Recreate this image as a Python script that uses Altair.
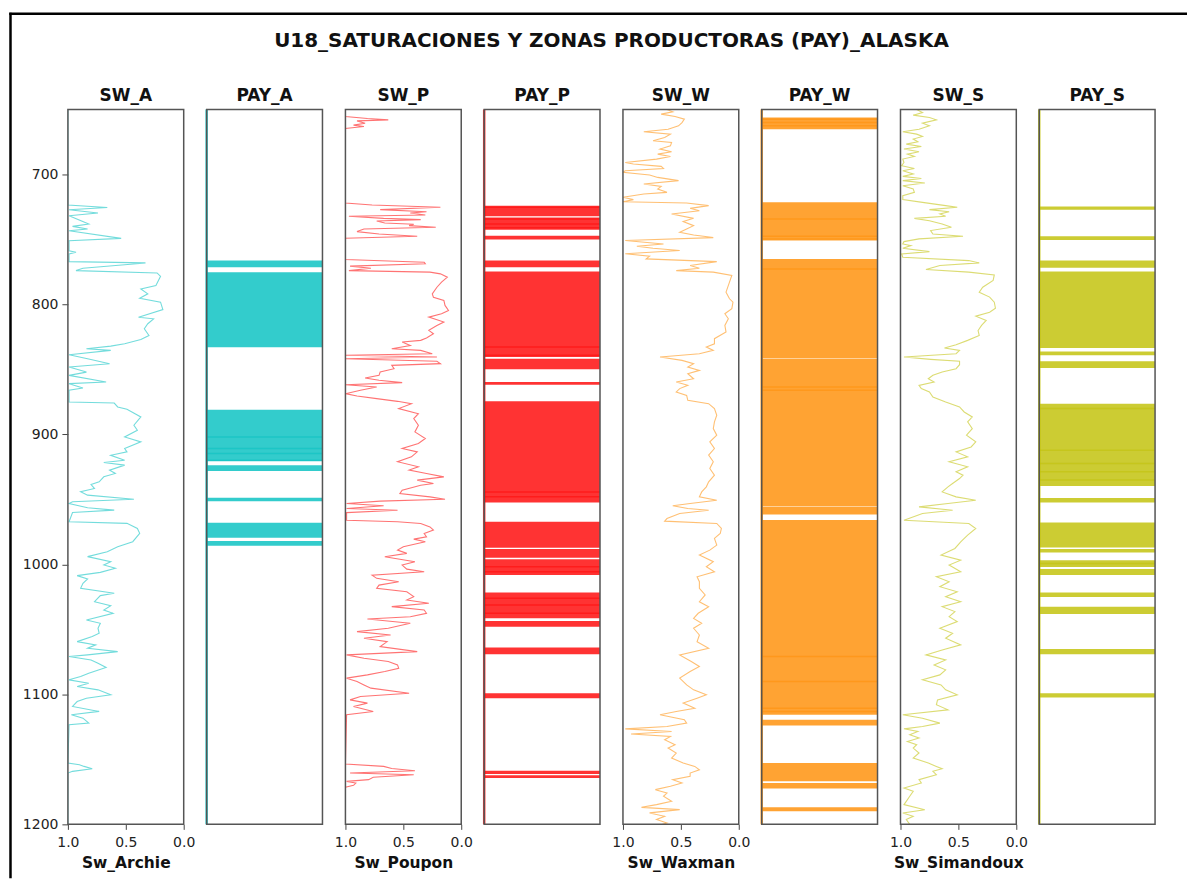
import altair as alt
import pandas as pd

TITLE = "U18_SATURACIONES Y ZONAS PRODUCTORAS (PAY)_ALASKA"
DEPTH_DOMAIN = [650, 1200]
DEPTH_TICKS = [700, 800, 900, 1000, 1100, 1200]
SW_TICKS = [1.0, 0.5, 0.0]

# ---------------- SW curves (depth, saturation) ----------------
sw_a_depth = [650, 723.5, 725.3, 727.1, 729.6, 731.7, 738.1, 739.9, 741.9, 743.2, 749.1, 750.9, 758.6, 759.8,
              761.1, 767.0, 768.0, 772.1, 773.9, 775.7, 778.3, 785.4, 788.0, 791.8, 795.2, 798.2, 803.9, 809.8,
              811.0, 814.8, 818.7, 823.8, 826.9, 830.2, 832.0, 834.0, 835.3, 838.6, 841.7, 845.6, 848.1, 852.0,
              854.5, 859.6, 860.9, 864.2, 866.0, 875.0, 875.8, 878.8, 880.6, 886.5, 892.9, 896.8, 901.9, 905.7,
              910.8, 913.4, 916.0, 919.8, 921.6, 923.6, 927.5, 930.0, 932.6, 936.4, 938.5, 941.6, 944.1, 946.7,
              949.8, 951.8, 953.1, 956.4, 958.2, 960.0, 967.2, 968.4, 972.3, 976.1, 982.5, 986.4, 990.2, 994.0,
              997.9, 1000.4, 1003.0, 1006.1, 1008.6, 1011.2, 1014.5, 1018.4, 1022.2, 1024.0, 1028.7, 1031.7,
              1035.1, 1037.6, 1042.7, 1045.3, 1049.1, 1053.0, 1055.5, 1059.4, 1061.9, 1064.5, 1067.1, 1069.6,
              1070.9, 1073.5, 1076.0, 1079.3, 1081.1, 1083.7, 1086.3, 1088.8, 1091.4, 1093.9, 1096.5, 1100.3,
              1102.9, 1105.5, 1109.3, 1113.1, 1115.7, 1118.3, 1122.1, 1123.4, 1152.8, 1154.1, 1155.4, 1157.2,
              1159.2, 1160.5, 1200]
sw_a_val = [1.0, 1.0, 0.66, 0.99, 0.74, 0.99, 0.82, 0.96, 0.83, 0.99, 0.54, 0.99, 0.99, 0.93,
            0.99, 0.99, 0.33, 0.87, 0.93, 0.23, 0.20, 0.24, 0.37, 0.31, 0.38, 0.20, 0.18, 0.39,
            0.26, 0.31, 0.34, 0.30, 0.37, 0.51, 0.63, 0.84, 0.63, 0.99, 0.83, 0.64, 0.99, 0.84,
            0.99, 0.67, 0.99, 0.87, 0.99, 0.99, 0.60, 0.57, 0.49, 0.37, 0.43, 0.40, 0.51, 0.37,
            0.51, 0.49, 0.63, 0.51, 0.69, 0.51, 0.64, 0.59, 0.69, 0.73, 0.80, 0.77, 0.89, 0.83,
            0.43, 0.96, 0.99, 0.83, 0.60, 0.96, 0.99, 0.49, 0.40, 0.38, 0.44, 0.57, 0.66, 0.83,
            0.63, 0.69, 0.59, 0.72, 0.92, 0.83, 0.87, 0.89, 0.60, 0.72, 0.77, 0.63,
            0.69, 0.61, 0.84, 0.72, 0.74, 0.73, 0.79, 0.92, 0.76, 0.83, 0.57, 0.83,
            0.99, 0.80, 0.74, 0.67, 0.73, 0.82, 0.89, 0.99, 0.82, 0.92, 0.74, 0.63,
            0.84, 0.92, 0.96, 0.73, 0.97, 0.87, 0.82, 0.99, 1.0, 0.90, 0.86, 0.79,
            0.96, 1.0, 1.0]

sw_p_depth = [650, 655.3, 656.9, 657.9, 658.7, 660.5, 662.0, 663.0, 664.5, 721.9, 723.4, 725.2, 727.0, 728.6,
              729.6, 731.1, 732.1, 733.7, 734.7, 735.7, 737.3, 738.3, 739.3, 740.6, 741.9, 743.9, 745.7, 747.5,
              749.0, 765.4, 767.5, 768.7, 770.5, 772.1, 773.9, 775.1, 776.4, 779.0, 782.8, 786.7, 791.8, 794.4,
              796.9, 800.7, 804.6, 807.1, 809.7, 813.5, 816.1, 819.9, 822.5, 825.8, 827.6, 828.9, 831.5, 834.0,
              835.3, 837.9, 839.1, 840.4, 841.7, 843.7, 845.5, 846.8, 849.4, 851.9, 854.5, 856.5, 858.3, 860.1,
              861.7, 863.5, 866.0, 868.6, 870.4, 872.4, 874.5, 876.3, 880.1, 884.0, 887.8, 892.9, 898.0, 903.1,
              907.0, 910.8, 913.4, 917.2, 921.0, 924.9, 927.4, 930.0, 932.6, 935.1, 937.7, 939.1, 942.9, 945.5,
              948.0, 949.8, 951.3, 953.1, 954.9, 957.0, 958.3, 960.1, 966.0, 967.2, 968.5, 971.1, 973.6, 976.2,
              978.7, 980.5, 982.6, 986.4, 989.0, 991.5, 994.1, 997.9, 1000.5, 1003.6, 1005.6, 1008.2, 1010.7,
              1013.3, 1015.9, 1018.4, 1021.0, 1024.8, 1027.4, 1029.9, 1032.5, 1035.1, 1037.6, 1040.2, 1042.0,
              1045.3, 1049.1, 1051.7, 1054.3, 1056.8, 1059.4, 1063.2, 1067.1, 1069.6, 1072.2, 1074.7, 1077.3,
              1079.9, 1082.4, 1085.0, 1087.5, 1090.1, 1092.7, 1095.2, 1099.1, 1101.6, 1104.2, 1106.7, 1109.3,
              1113.1, 1115.7, 1153.6, 1155.4, 1157.0, 1158.7, 1160.5, 1161.8, 1163.8, 1165.6, 1166.9, 1168.2,
              1170.0, 1171.5, 1200]
sw_p_val = [1.0, 1.0, 0.81, 0.63, 0.90, 0.83, 0.93, 0.84, 1.0, 1.0, 0.77, 0.18, 0.70, 0.30,
            0.44, 0.31, 0.97, 0.67, 0.35, 0.73, 0.66, 0.41, 0.45, 0.22, 0.84, 0.90, 0.71, 0.38,
            1.0, 1.0, 0.32, 0.31, 0.96, 0.78, 0.97, 0.27, 0.18, 0.12, 0.17, 0.21, 0.25, 0.24,
            0.15, 0.14, 0.11, 0.17, 0.28, 0.15, 0.21, 0.28, 0.24, 0.30, 0.35, 0.51, 0.44, 0.60,
            0.35, 0.25, 1.0, 0.21, 1.0, 0.21, 0.18, 0.60, 0.58, 0.70, 0.71, 0.83, 0.71, 0.51,
            1.0, 0.73, 0.87, 1.0, 0.90, 0.73, 0.55, 0.43, 0.54, 0.37, 0.41, 0.37, 0.40, 0.31,
            0.37, 0.51, 0.38, 0.43, 0.55, 0.37, 0.45, 0.30, 0.15, 0.38, 0.24, 0.35, 0.51, 0.53,
            0.27, 0.14, 0.70, 0.99, 0.67, 0.99, 0.55, 0.99, 0.99, 0.55, 0.35, 0.27, 0.24, 0.32,
            0.30, 0.41, 0.31, 0.50, 0.55, 0.47, 0.66, 0.40, 0.51, 0.47, 0.32, 0.77, 0.73,
            0.54, 0.71, 0.73, 0.47, 0.41, 0.47, 0.28, 0.60, 0.32, 0.30, 0.44, 0.81,
            0.44, 0.63, 0.90, 0.61, 0.84, 0.64, 0.70, 0.38, 0.99, 0.84, 0.63, 0.55,
            0.54, 0.66, 0.81, 0.99, 0.90, 0.84, 0.78, 0.45, 0.87, 0.96, 0.81, 0.93,
            0.76, 0.99, 1.0, 0.67, 0.60, 0.40, 0.96, 0.41, 0.76, 0.80, 0.99, 0.91,
            0.93, 1.0, 1.0]

sw_w_depth = [650.0, 651.7, 653.5, 655.3, 657.4, 660.0, 662.5, 665.1, 667.1, 668.9, 671.5, 674.0, 675.3, 677.9,
              680.4, 682.5, 684.3, 686.1, 688.1, 690.7, 691.9, 693.7, 695.3, 697.1, 698.3, 700.4, 702.2, 704.7,
              707.3, 709.1, 711.1, 713.7, 715.0, 717.5, 719.3, 720.9, 721.9, 723.9, 726.0, 727.8, 730.3, 733.7,
              736.2, 739.3, 741.9, 744.4, 746.5, 748.5, 750.8, 753.4, 755.2, 756.7, 758.5, 761.0, 762.8, 764.9,
              767.0, 770.0, 772.1, 773.9, 775.1, 777.7, 782.8, 790.5, 795.6, 798.2, 803.3, 807.1, 811.0, 816.1,
              821.2, 826.3, 830.2, 832.7, 835.3, 837.9, 840.4, 843.0, 845.5, 848.1, 850.7, 853.2, 857.1, 859.6,
              862.2, 864.7, 867.3, 869.9, 873.7, 876.3, 880.1, 885.2, 890.3, 895.5, 900.6, 905.7, 910.8, 915.9,
              921.0, 926.2, 931.3, 936.4, 940.3, 944.2, 948.0, 950.6, 953.1, 954.9, 957.0, 958.3, 960.8, 964.7,
              966.7, 968.5, 972.3, 976.2, 980.0, 985.1, 989.0, 992.8, 997.9, 1001.8, 1005.6, 1009.5, 1013.3,
              1018.4, 1023.5, 1028.7, 1032.5, 1037.6, 1041.5, 1045.3, 1049.1, 1054.3, 1059.4, 1064.5, 1069.6,
              1074.7, 1078.6, 1082.4, 1087.5, 1092.7, 1096.5, 1100.3, 1102.9, 1106.7, 1110.6, 1113.1, 1115.7,
              1119.5, 1122.1, 1124.7, 1126.5, 1128.5, 1130.5, 1132.3, 1134.9, 1138.7, 1141.3, 1145.1, 1149.0,
              1152.8, 1155.4, 1158.0, 1160.5, 1163.1, 1165.6, 1168.2, 1170.7, 1173.3, 1175.9, 1178.4, 1182.3,
              1184.8, 1186.9, 1188.7, 1191.2, 1193.8, 1196.3, 1198.9, 1200.0]
sw_w_val = [0.62, 0.57, 0.67, 0.55, 0.47, 0.49, 0.52, 0.61, 0.82, 0.59, 0.64, 0.74, 0.58, 0.59,
            0.68, 0.58, 0.70, 0.59, 0.71, 0.98, 0.91, 0.67, 0.65, 0.98, 1.0, 0.77, 0.70, 0.52,
            0.82, 0.67, 0.70, 0.62, 0.82, 1.0, 0.91, 1.0, 0.45, 0.26, 0.42, 0.34, 0.58, 0.39,
            0.48, 0.39, 0.45, 0.51, 0.39, 0.22, 0.98, 0.65, 0.88, 0.74, 0.51, 0.98, 0.77, 0.80,
            0.19, 0.42, 0.34, 0.54, 0.22, 0.06, 0.08, 0.11, 0.08, 0.05, 0.06, 0.12, 0.09, 0.12,
            0.11, 0.21, 0.21, 0.28, 0.22, 0.34, 0.68, 0.49, 0.39, 0.44, 0.34, 0.44, 0.39, 0.54,
            0.44, 0.51, 0.54, 0.45, 0.44, 0.26, 0.21, 0.19, 0.21, 0.22, 0.19, 0.25, 0.21, 0.26,
            0.22, 0.25, 0.21, 0.26, 0.28, 0.32, 0.34, 0.19, 0.42, 0.57, 0.44, 0.26, 0.51, 0.62,
            0.64, 0.19, 0.15, 0.16, 0.21, 0.19, 0.25, 0.34, 0.22, 0.28, 0.21, 0.36, 0.34,
            0.34, 0.29, 0.34, 0.26, 0.35, 0.39, 0.32, 0.39, 0.34, 0.36, 0.26, 0.51,
            0.41, 0.34, 0.42, 0.51, 0.45, 0.39, 0.28, 0.36, 0.48, 0.38, 0.54, 0.68,
            0.47, 0.45, 0.62, 0.98, 0.58, 0.93, 0.59, 0.64, 0.55, 0.61, 0.54, 0.58,
            0.48, 0.38, 0.34, 0.42, 0.42, 0.57, 0.49, 0.59, 0.72, 0.62, 0.65, 0.58,
            0.71, 0.84, 0.51, 0.77, 0.64, 0.71, 0.62, 0.66]

sw_s_depth = [650.0, 652.3, 654.3, 656.1, 657.9, 660.5, 662.5, 665.1, 667.1, 668.9, 670.7, 672.7, 674.8, 676.6,
              678.4, 680.4, 682.5, 684.3, 686.1, 688.1, 690.7, 693.2, 695.3, 697.1, 699.6, 701.4, 703.0, 704.7,
              706.5, 708.6, 711.1, 713.7, 716.3, 719.3, 721.4, 723.9, 725.2, 727.0, 728.6, 730.3, 732.1, 733.7,
              735.5, 738.1, 740.6, 743.1, 745.7, 747.5, 749.5, 751.6, 753.4, 754.7, 756.7, 759.3, 761.1, 763.6,
              766.2, 768.0, 770.0, 773.1, 775.1, 777.2, 781.5, 786.7, 790.5, 794.3, 798.2, 802.8, 805.9, 809.0,
              812.3, 816.1, 820.0, 823.8, 827.6, 830.9, 833.5, 835.3, 837.9, 840.4, 842.2, 843.7, 846.3, 849.4,
              851.9, 854.5, 857.1, 859.6, 862.2, 864.7, 867.3, 871.2, 875.0, 878.8, 882.7, 886.5, 890.3, 895.5,
              900.6, 905.7, 909.6, 913.4, 917.2, 921.0, 924.9, 928.7, 931.3, 933.9, 937.7, 940.3, 944.2, 948.0,
              950.6, 953.1, 955.7, 958.3, 960.8, 966.0, 968.5, 972.3, 977.5, 982.6, 987.7, 992.8, 996.7, 1000.5,
              1005.6, 1009.5, 1013.3, 1017.1, 1021.0, 1024.8, 1028.7, 1032.5, 1036.3, 1040.2, 1044.0, 1049.1,
              1053.0, 1056.8, 1061.9, 1065.8, 1069.6, 1073.5, 1077.3, 1081.1, 1085.0, 1088.8, 1092.7, 1096.5,
              1100.3, 1104.2, 1108.0, 1111.9, 1115.7, 1118.3, 1122.1, 1124.7, 1126.5, 1128.5, 1131.1, 1133.6,
              1136.2, 1138.7, 1141.3, 1145.1, 1149.0, 1152.8, 1155.4, 1157.2, 1159.2, 1161.8, 1165.6, 1168.2,
              1172.0, 1174.6, 1178.4, 1182.3, 1184.8, 1188.7, 1191.2, 1193.8, 1196.3, 1200.0]
sw_s_val = [0.86, 0.81, 0.89, 0.75, 0.69, 0.81, 0.75, 0.84, 0.98, 0.86, 0.81, 0.89, 0.85, 0.95,
            0.82, 0.97, 0.84, 0.94, 0.88, 0.98, 0.97, 0.99, 0.88, 0.98, 0.89, 0.98, 0.82, 0.98,
            0.79, 0.98, 0.89, 0.88, 0.98, 0.98, 0.81, 0.61, 0.51, 0.75, 0.58, 0.66, 0.61, 0.88,
            0.75, 0.64, 0.56, 0.74, 0.72, 0.46, 0.84, 0.97, 0.98, 0.91, 0.98, 0.75, 0.99, 0.98,
            0.41, 0.32, 0.66, 0.78, 0.41, 0.19, 0.20, 0.29, 0.32, 0.23, 0.19, 0.18, 0.23, 0.35,
            0.26, 0.30, 0.33, 0.32, 0.42, 0.52, 0.62, 0.49, 0.52, 0.97, 0.74, 0.49, 0.49, 0.52,
            0.64, 0.72, 0.76, 0.71, 0.84, 0.82, 0.75, 0.72, 0.61, 0.49, 0.45, 0.38, 0.42, 0.38,
            0.43, 0.35, 0.39, 0.52, 0.42, 0.58, 0.42, 0.52, 0.46, 0.49, 0.55, 0.59, 0.64, 0.52,
            0.35, 0.59, 0.84, 0.55, 0.81, 0.97, 0.41, 0.35, 0.42, 0.48, 0.53, 0.65, 0.48, 0.58,
            0.48, 0.69, 0.58, 0.66, 0.51, 0.61, 0.48, 0.64, 0.53, 0.58, 0.51, 0.66,
            0.55, 0.61, 0.48, 0.64, 0.78, 0.61, 0.71, 0.61, 0.66, 0.81, 0.65, 0.61,
            0.51, 0.68, 0.69, 0.59, 0.98, 0.81, 0.66, 0.81, 0.97, 0.85, 0.92, 0.84,
            0.94, 0.86, 0.89, 0.84, 0.89, 0.76, 0.69, 0.64, 0.72, 0.69, 0.84, 0.82,
            0.97, 0.89, 0.92, 0.95, 0.97, 0.79, 0.98, 0.89, 0.95, 0.92]

# ---------------- PAY intervals (top, base) and darker flag-change seams ----------------
pay_a_top = [766.2, 775.2, 880.9, 923.6, 948.7, 967.9, 982.0]
pay_a_base = [771.4, 832.8, 920.6, 928.2, 951.3, 979.4, 985.6]
pay_a_seams = [901.9, 910.8, 914.7, 919.8]

pay_p_top = [724.0, 733.1, 747.0, 766.2, 774.6, 841.7, 859.6, 874.5, 967.2, 988.2, 996.1, 1021.5, 1043.5,
             1064.0, 1099.1, 1158.7, 1162.2]
pay_p_base = [732.1, 742.4, 750.0, 771.3, 840.4, 849.9, 861.7, 952.4, 987.2, 994.9, 1008.2, 1041.5, 1047.9,
              1069.1, 1102.9, 1161.2, 1164.3]
pay_p_seams = [725.2, 734.2, 738.0, 741.0, 832.7, 839.1, 944.2, 948.0, 1001.8, 1005.6, 1026.1, 1031.2, 1037.6]

pay_w_top = [656.1, 721.4, 764.9, 842.0, 955.5, 965.9, 1119.5, 1152.8, 1168.2, 1186.9]
pay_w_base = [665.1, 750.8, 841.5, 955.0, 961.6, 1115.7, 1123.9, 1166.9, 1172.5, 1189.9]
pay_w_seams = [657.4, 660.0, 662.5, 734.2, 747.5, 749.5, 772.6, 863.5, 866.0, 1070.9, 1090.1, 1110.6, 1113.1]

pay_s_top = [724.5, 747.5, 766.2, 774.6, 836.1, 843.7, 876.3, 948.8, 967.7, 988.2, 996.7, 1003.6, 1021.5,
             1032.5, 1065.0, 1099.1]
pay_s_base = [727.0, 750.3, 771.8, 833.5, 839.1, 848.9, 939.6, 952.4, 986.9, 990.8, 1002.0, 1008.2, 1025.1,
              1038.1, 1069.1, 1102.4]
pay_s_seams = [880.1, 912.1, 922.3, 928.7, 935.1, 999.2]

# ---------------- styling ----------------
W, H, GAP = 116, 716, 23
FONT = "DejaVu Sans"
BORDER = "#555555"
COL_A, COL_P, COL_W, COL_S = "#00BFBF", "#FF0000", "#FF8C00", "#BFBF00"

y_scale = alt.Scale(domain=DEPTH_DOMAIN, reverse=True, nice=False, zero=False)
sw_scale = alt.Scale(domain=[0, 1], reverse=True, nice=False, zero=False)
pay_scale = alt.Scale(domain=[0, 1], nice=False, zero=False)

Y_AXIS = alt.Axis(values=DEPTH_TICKS, format="d", title=None, labelFont=FONT, labelFontSize=14,
                  labelColor="#222", tickSize=6, tickColor="#444", labelPadding=4, domain=False,
                  grid=False, labelFlush=False, labelOverlap=False)


def x_axis(title):
    return alt.Axis(values=SW_TICKS, format=".1f", title=title, labelFont=FONT,
                    labelFontSize=14, labelColor="#222", tickSize=5, tickColor="#444",
                    labelPadding=6, domain=False, grid=False, labelFlush=False,
                    labelOverlap=False, titleFont=FONT, titleFontSize=15.5,
                    titleFontWeight="bold", titleColor="#111", titlePadding=6)


def title_layer(name):
    return alt.Chart(pd.DataFrame({"label": [name]})).mark_text(
        font=FONT, fontSize=17, fontWeight="bold", align="center", baseline="alphabetic", color="#111"
    ).encode(text="label:N", x=alt.value(W / 2), y=alt.value(-9))


def border_layer(xscale, xaxis, yaxis):
    return alt.Chart(pd.DataFrame({"b": [0]})).mark_rect(
        filled=False, stroke=BORDER, strokeWidth=1.5
    ).encode(
        x=alt.X(datum=0, scale=xscale, axis=xaxis),
        x2=alt.X2(datum=1),
        y=alt.Y(datum=DEPTH_DOMAIN[0], scale=y_scale, axis=yaxis),
        y2=alt.Y2(datum=DEPTH_DOMAIN[1]),
    )


def sw_panel(name, axis_title, depth, vals, color, first=False):
    df = pd.DataFrame({"depth": depth, "sw": vals})
    yaxis = Y_AXIS if first else None
    xaxis = x_axis(axis_title)
    line = alt.Chart(df).mark_line(color=color, strokeOpacity=0.55, strokeWidth=1.1, clip=True).encode(
        x=alt.X("sw:Q", scale=sw_scale, axis=xaxis),
        y=alt.Y("depth:Q", scale=y_scale, axis=yaxis),
        order=alt.Order("depth:Q"),
    )
    layers = [line, border_layer(sw_scale, xaxis, yaxis), title_layer(name)]
    if first:
        frame_df = pd.DataFrame({"f": [0]})
        top_line = alt.Chart(frame_df).mark_rule(color="black", strokeWidth=2.5).encode(
            x=alt.value(-58.75), x2=alt.value(1121), y=alt.value(-96))
        left_line = alt.Chart(frame_df).mark_rule(color="black", strokeWidth=2.5).encode(
            x=alt.value(-57.5), y=alt.value(-97), y2=alt.value(770))
        main_title = alt.Chart(pd.DataFrame({"t": [TITLE]})).mark_text(
            font=FONT, fontSize=20, fontWeight="bold", align="center", baseline="alphabetic", color="#111"
        ).encode(text="t:N", x=alt.value(544.5), y=alt.value(-63))
        layers += [top_line, left_line, main_title]
    return alt.layer(*layers).properties(width=W, height=H)


def pay_panel(name, tops, bases, seams, color):
    df = pd.DataFrame({"top": tops, "base": bases})
    df["x0"] = 0
    df["pay"] = 1
    rects = alt.Chart(df).mark_rect(color=color, opacity=0.8, clip=True).encode(
        x=alt.X("x0:Q", scale=pay_scale, axis=None),
        x2="pay:Q",
        y=alt.Y("top:Q", scale=y_scale, axis=None),
        y2="base:Q",
    )
    sdf = pd.DataFrame({"depth": seams})
    sdf["x0"] = 0
    sdf["pay"] = 1
    seam = alt.Chart(sdf).mark_rule(color=color, opacity=0.45, strokeWidth=1.5).encode(
        x=alt.X("x0:Q", scale=pay_scale, axis=None),
        x2="pay:Q",
        y=alt.Y("depth:Q", scale=y_scale, axis=None),
    )
    edge = alt.Chart(pd.DataFrame({"e": [0]})).mark_rule(color=color, opacity=0.8, strokeWidth=2.5).encode(
        x=alt.X(datum=0, scale=pay_scale, axis=None),
        y=alt.Y(datum=DEPTH_DOMAIN[0], scale=y_scale, axis=None),
        y2=alt.Y2(datum=DEPTH_DOMAIN[1]),
    )
    return alt.layer(rects, seam, edge, border_layer(pay_scale, None, None), title_layer(name)).properties(
        width=W, height=H)


panels = [
    sw_panel("SW_A", "Sw_Archie", sw_a_depth, sw_a_val, COL_A, first=True),
    pay_panel("PAY_A", pay_a_top, pay_a_base, pay_a_seams, COL_A),
    sw_panel("SW_P", "Sw_Poupon", sw_p_depth, sw_p_val, COL_P),
    pay_panel("PAY_P", pay_p_top, pay_p_base, pay_p_seams, COL_P),
    sw_panel("SW_W", "Sw_Waxman", sw_w_depth, sw_w_val, COL_W),
    pay_panel("PAY_W", pay_w_top, pay_w_base, pay_w_seams, COL_W),
    sw_panel("SW_S", "Sw_Simandoux", sw_s_depth, sw_s_val, COL_S),
    pay_panel("PAY_S", pay_s_top, pay_s_base, pay_s_seams, COL_S),
]

chart = alt.hconcat(*panels, spacing=GAP, bounds="flush").resolve_scale(
    x="independent", y="independent"
).properties(
    padding={"left": 0, "top": 2, "right": 0, "bottom": 0},
    background="white",
).configure_view(stroke=None)

chart.save("out.html", embed_options={"renderer": "svg", "actions": False})
